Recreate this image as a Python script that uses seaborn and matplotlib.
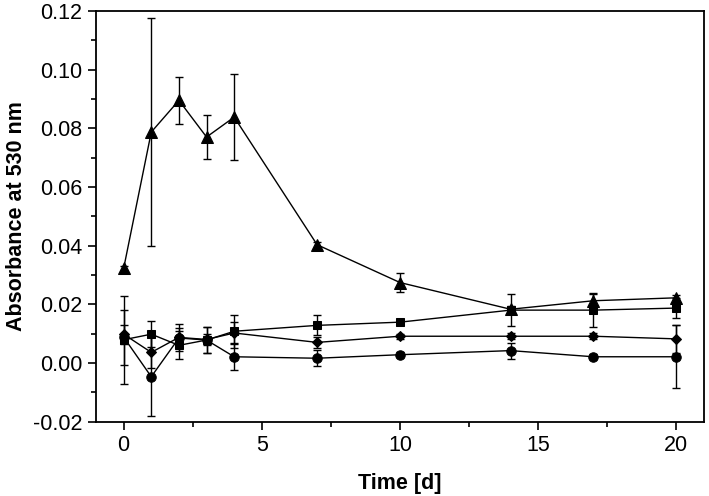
import numpy as np
import pandas as pd
import matplotlib
matplotlib.use("Agg")
import matplotlib.pyplot as plt
from matplotlib.ticker import MultipleLocator
import seaborn as sns

# sampling days
days = [0, 1, 2, 3, 4, 7, 10, 14, 17, 20]

# absorbance means and error (sd) for each series
tri_y = [0.0322, 0.0787, 0.0895, 0.0770, 0.0838, 0.0403, 0.0274, 0.0183, 0.0212, 0.0222]
tri_e = [0.0010, 0.0390, 0.0079, 0.0075, 0.0147, 0.0010, 0.0033, 0.0010, 0.0022, 0.0008]

sq_y = [0.0079, 0.0098, 0.0060, 0.0078, 0.0108, 0.0128, 0.0139, 0.0180, 0.0180, 0.0187]
sq_e = [0.0150, 0.0045, 0.0048, 0.0045, 0.0056, 0.0034, 0.0008, 0.0055, 0.0057, 0.0034]

dia_y = [0.0098, 0.0036, 0.0087, 0.0080, 0.0102, 0.0070, 0.0091, 0.0091, 0.0091, 0.0082]
dia_e = [0.0033, 0.0052, 0.0045, 0.0020, 0.0038, 0.0020, 0.0008, 0.0010, 0.0010, 0.0049]

circ_y = [0.0088, -0.0047, 0.0085, 0.0078, 0.0021, 0.0016, 0.0028, 0.0042, 0.0021, 0.0021]
circ_e = [0.0094, 0.0135, 0.0035, 0.0045, 0.0046, 0.0027, 0.0008, 0.0027, 0.0008, 0.0107]

series = {"tri": (tri_y, tri_e, "^", 8.5),
          "sq": (sq_y, sq_e, "s", 6),
          "dia": (dia_y, dia_e, "D", 5.5),
          "circ": (circ_y, circ_e, "o", 6.8)}

rows = []
for name, (ys, es, m, ms) in series.items():
    for d, y, e in zip(days, ys, es):
        rows.append({"day": d, "abs": y, "err": e, "series": name})
df = pd.DataFrame(rows)

sns.set_style("ticks")
plt.rcParams['font.family'] = ['Liberation Sans', 'DejaVu Sans']
plt.rcParams['text.color'] = 'black'
plt.rcParams['axes.labelcolor'] = 'black'

fig = plt.figure(figsize=(7.09, 4.96), dpi=100)
ax = fig.add_axes([0.1354, 0.150, 0.993 - 0.1354, 0.978 - 0.150])

for name, (ys, es, m, ms) in series.items():
    sub = df[df.series == name]
    ax.errorbar(sub["day"], sub["abs"], yerr=sub["err"], fmt="none",
                ecolor="black", elinewidth=1.0, capsize=3.2, capthick=1.0, zorder=2)
    sns.lineplot(data=sub, x="day", y="abs", color="black", linewidth=1.0,
                 marker=m, markersize=ms, markeredgecolor="black",
                 markerfacecolor="black", ax=ax, zorder=3)

ax.set_xlim(-1, 21)
ax.set_ylim(-0.02, 0.12)
ax.xaxis.set_major_locator(MultipleLocator(5))
ax.xaxis.set_minor_locator(MultipleLocator(2.5))
ax.yaxis.set_major_locator(MultipleLocator(0.02))
ax.yaxis.set_minor_locator(MultipleLocator(0.01))
ax.yaxis.set_major_formatter(plt.FuncFormatter(lambda v, p: "%.2f" % v))

for s in ax.spines.values():
    s.set_visible(True)
    s.set_linewidth(1.3)
    s.set_color("black")

ax.tick_params(which="major", direction="out", length=6, width=1.2,
               labelsize=15.5, pad=4, colors="black")
ax.tick_params(which="minor", direction="out", length=3.5, width=1.2, colors="black")
ax.tick_params(top=False, right=False, which="both")

ax.set_xlabel("Time [d]", fontsize=15.5, fontweight="bold", labelpad=12)
ax.set_ylabel("Absorbance at 530 nm", fontsize=15.5, fontweight="bold", labelpad=4)

fig.savefig("out.png", dpi=100)
